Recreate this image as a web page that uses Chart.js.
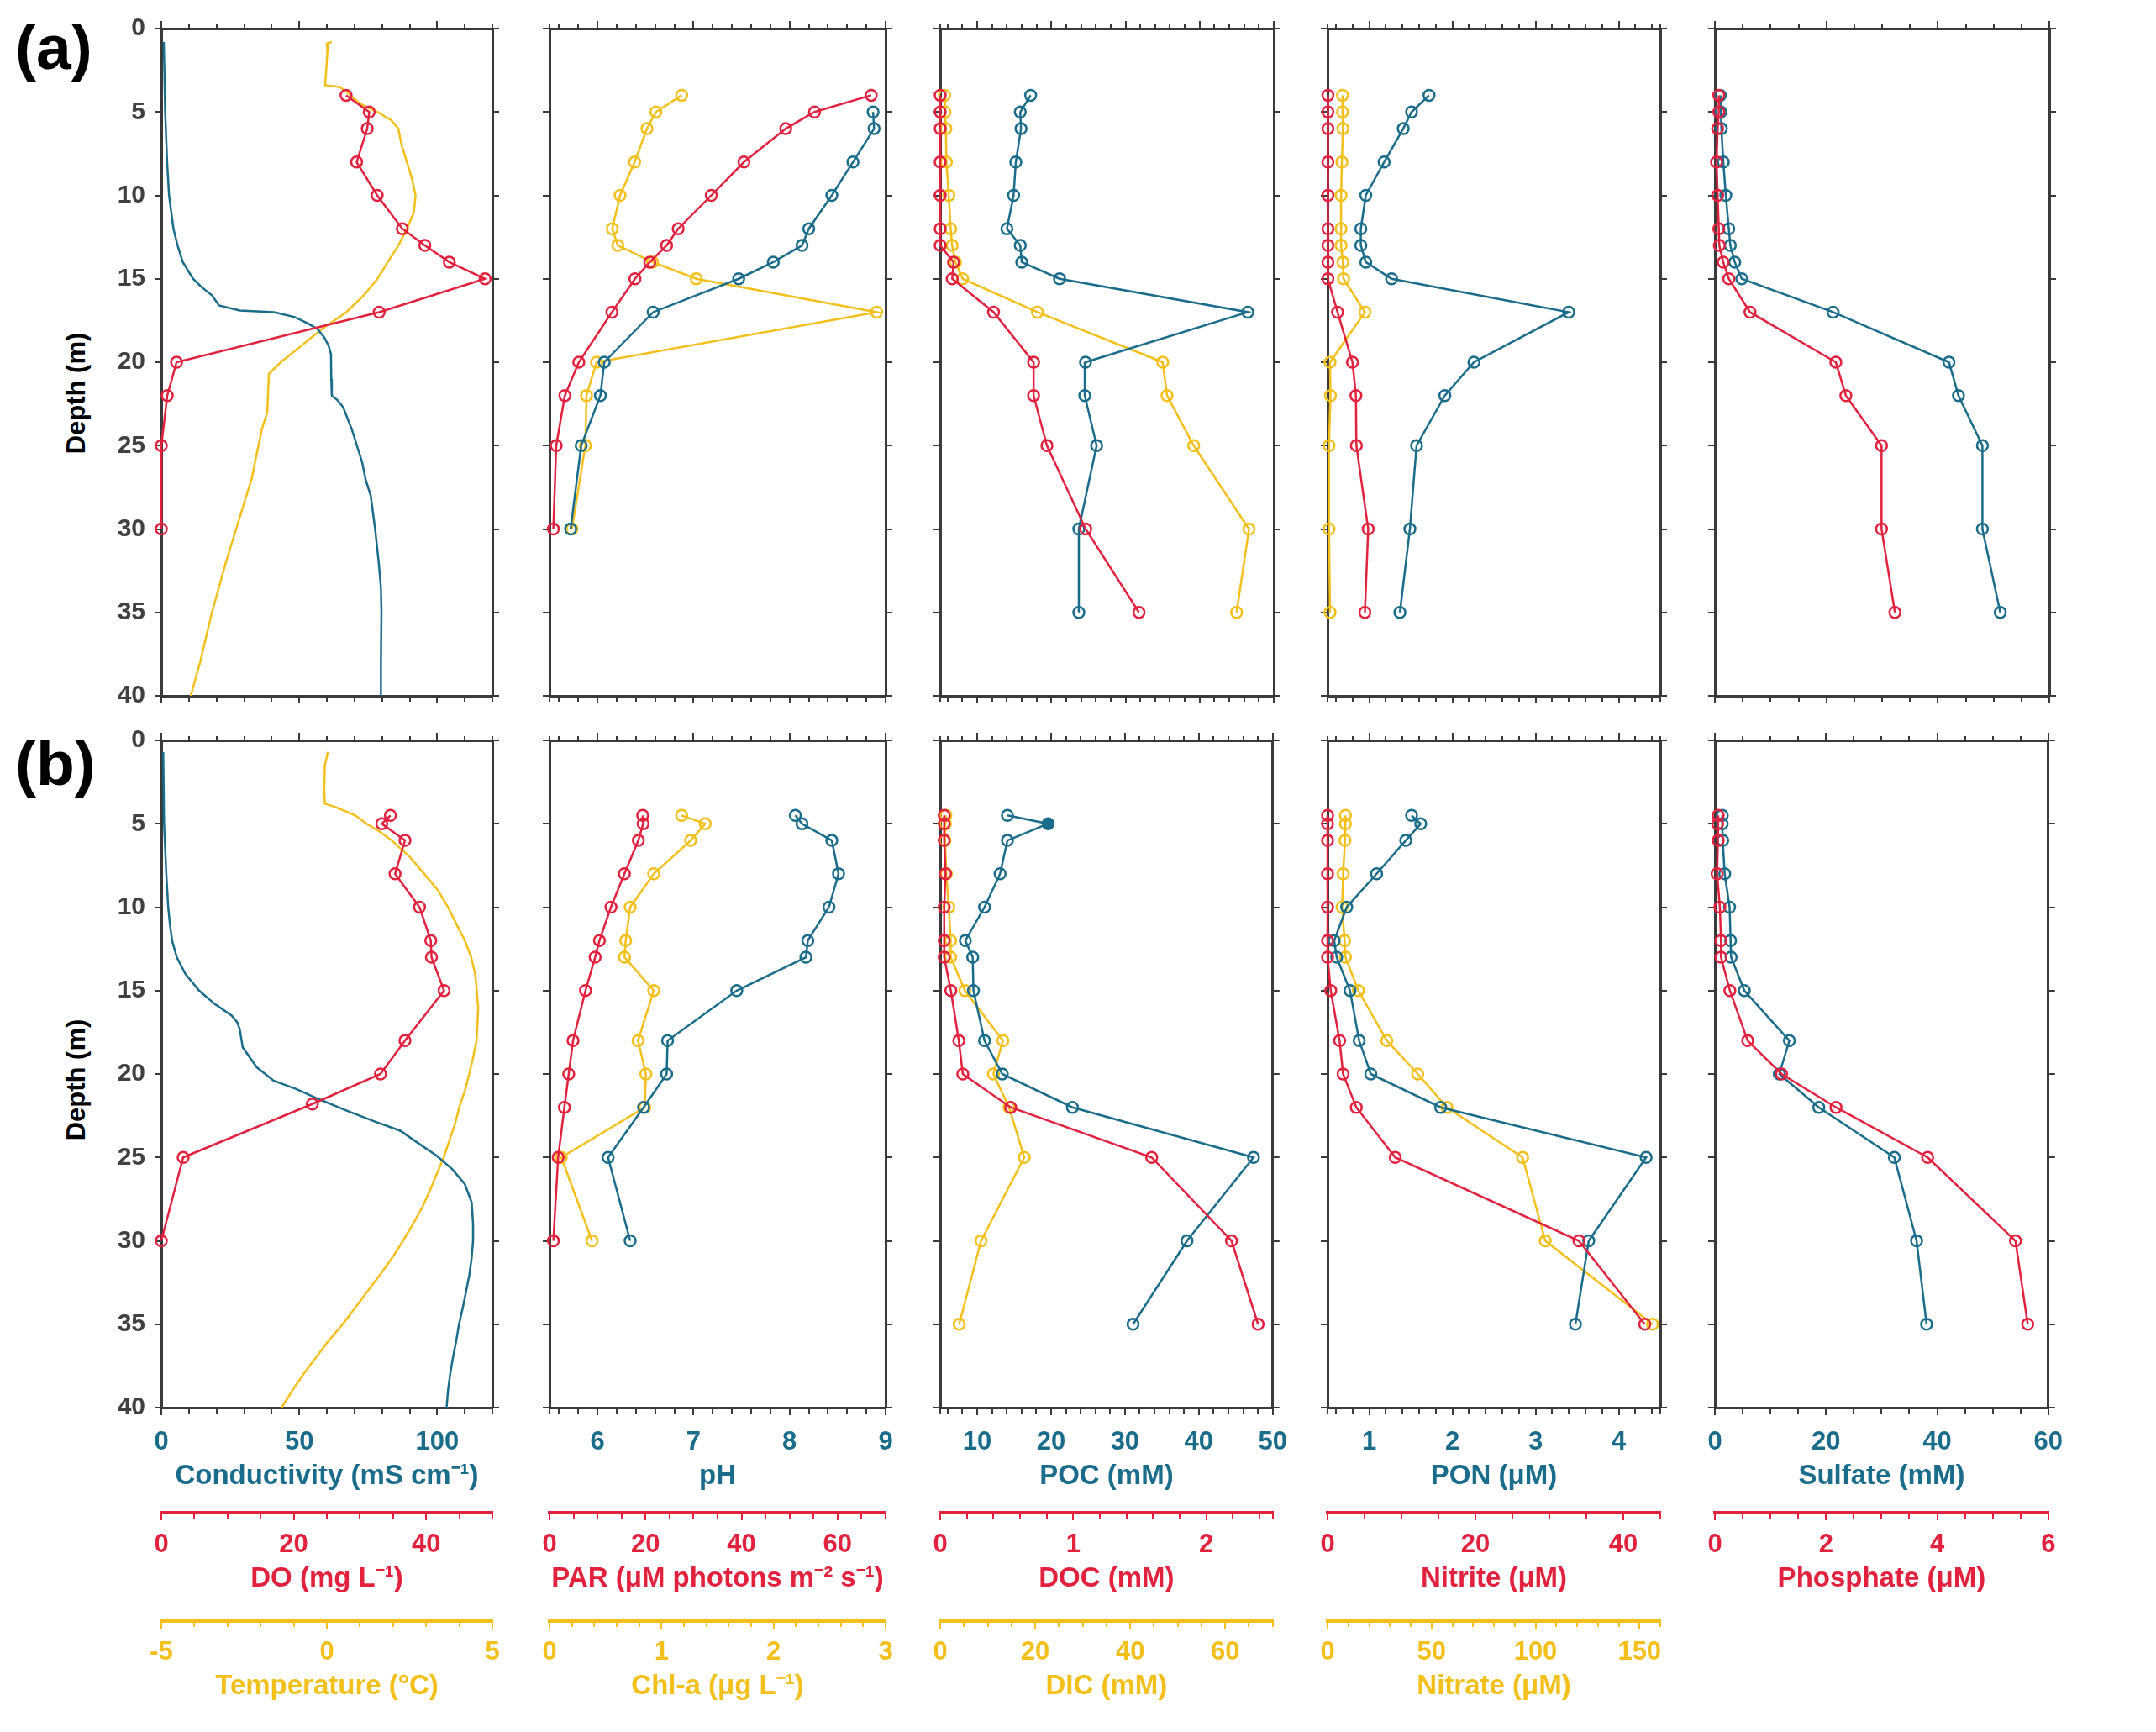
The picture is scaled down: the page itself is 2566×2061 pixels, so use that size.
<!DOCTYPE html>
<html>
<head>
<meta charset="utf-8">
<script src="https://cdn.jsdelivr.net/npm/chart.js@4.4.1/dist/chart.umd.min.js"></script>
<style>
body { margin: 0; background: #fff; }
#wrap { position: relative; width: 2566px; height: 2061px; background: #fff; overflow: hidden; font-family: 'Liberation Sans', Arial, sans-serif; }
#wrap canvas { position: absolute; }
.tag { position: absolute; font-weight: bold; font-size: 75px; line-height: 1; color: #000; }
.ylab { position: absolute; font-weight: bold; font-size: 31px; line-height: 1; color: #000; white-space: nowrap;
        transform: translate(-50%, -50%) rotate(-90deg); }
</style>
</head>
<body>
<div id="wrap">
  <div class="tag" style="left:18px;top:19px">(a)</div>
  <div class="tag" style="left:18px;top:871px">(b)</div>
  <div class="ylab" style="left:90px;top:468px">Depth (m)</div>
  <div class="ylab" style="left:90px;top:1285px">Depth (m)</div>
</div>
<script>
// ---- data ----
// (a) CTD casts
const condDepthA = [0.8,5,8,10,11,12,13,14,15,15.5,16,16.6,16.9,17,17.3,17.7,18,18.5,19,19.5,21,22,22.3,22.7,23.5,24,25,26,27,28,30,32,33.5,35,38,40];
const condA = [0.9,1.4,2.1,2.8,3.6,4.4,5.9,7.8,11.5,14.6,18.4,20.9,28.4,40.9,48.4,53.4,56.5,59.0,60.6,61.5,61.6,61.8,64.0,65.9,67.8,69.0,70.9,72.8,74.0,75.9,77.5,78.8,79.6,79.8,79.6,79.6];
const tempDepthA = [0.8,0.9,1.3,3.4,3.5,3.8,4.5,5,5.5,6,7,8,9,10,11,12,13,14,15,16,17,18,19,20,20.7,23,24,26,27,28,30,32,35,38,40];
const tempA = [0.15,0.0,0.02,-0.05,0.39,0.6,1.0,1.53,1.95,2.16,2.26,2.42,2.57,2.68,2.63,2.42,2.16,1.84,1.53,1.11,0.59,-0.14,-0.76,-1.39,-1.75,-1.8,-1.96,-2.17,-2.27,-2.43,-2.74,-3.05,-3.47,-3.83,-4.11];
const doDepthA = [4,5,6,8,10,12,13,14,15,17,20,22,25,30];
const doA = [27.9,31.4,31.1,29.5,32.6,36.4,39.8,43.5,48.9,32.9,2.3,0.9,0,0];

// (a) discrete samples
const phDepthA = [5,6,8,10,12,13,14,15,17,20,22,25,30];
const phA = [8.87,8.88,8.66,8.44,8.20,8.13,7.83,7.47,6.58,6.07,6.03,5.83,5.72];
const parDepthA = [4,5,6,8,10,12,13,14,15,17,20,22,25,30];
const parA = [67.0,55.2,49.2,40.5,33.7,26.8,24.4,20.9,17.8,13.0,6.1,3.2,1.4,0.8];
const chlA = [1.18,0.95,0.87,0.76,0.63,0.56,0.61,0.92,1.31,2.92,0.42,0.33,0.32,0.20];

const depthA = [4,5,6,8,10,12,13,14,15,17,20,22,25,30,35];
const pocA = [17.2,15.8,15.9,15.2,14.9,14.0,15.8,16.0,21.1,46.5,24.6,24.5,26.1,23.7,23.7];
const docA = [0,0,0,0,0,0,0,0.10,0.09,0.40,0.70,0.70,0.80,1.09,1.49];
const dicA = [0.9,1.0,1.2,1.3,1.8,2.2,2.5,3.2,4.7,20.4,46.7,47.6,53.2,64.8,62.2];
const ponA = [1.72,1.51,1.41,1.18,0.96,0.90,0.90,0.96,1.27,3.40,2.26,1.91,1.57,1.49,1.37];
const nitriteA = [0.05,0.05,0.05,0.05,0.05,0.05,0.05,0.05,0.05,1.35,3.37,3.84,3.9,5.5,5.05];
const nitrateA = [7.2,7.2,7.4,6.9,6.5,6.5,6.5,7.4,7.7,18.0,1.2,1.4,0.7,0.7,1.2];
const sulfateA = [0.98,1.07,1.16,1.52,1.96,2.5,2.77,3.57,4.82,21.2,42.0,43.7,48.0,48.0,51.2];
const phosphateA = [0.07,0.07,0.05,0.03,0.05,0.07,0.08,0.15,0.25,0.63,2.17,2.35,2.99,2.99,3.23];

// (b) CTD casts
const condDepthB = [0.7,5,8,10,11,12,13,14,14.5,15,15.8,16.5,16.9,17.3,18.4,19.6,20.4,20.9,21.5,22.2,22.85,23.4,24.1,24.9,25.7,26.6,27.7,29,30,31,32,33,34,35,36,37,38,39,40];
const condB = [0.7,1.0,1.8,2.5,3.1,3.9,5.6,8.7,11.2,13.7,19.3,25.5,27.5,28.4,29.5,34.6,40.7,48.9,57.0,67.2,77.4,86.6,92.7,99.8,105.4,110.0,112.5,113.0,113.0,112.5,111.7,110.5,109.3,107.9,106.9,105.7,104.7,103.9,103.4];
const tempDepthB = [0.7,1.5,3,3.8,4,4.5,5,5.5,6,7,8,9,10,11,12,13,14,15,16,17,18,19,20,21,22,23,24,25,26,27,28,29,30,31,32,33,34,35,36,37,38,39,40];
const tempB = [0.03,-0.06,-0.08,-0.06,0.26,0.86,1.2,1.62,1.96,2.51,2.94,3.36,3.66,3.91,4.17,4.36,4.48,4.53,4.57,4.55,4.52,4.42,4.30,4.17,4.0,3.87,3.70,3.53,3.32,3.11,2.88,2.60,2.30,1.98,1.62,1.24,0.86,0.48,0.05,-0.33,-0.71,-1.05,-1.37];
const doDepthB = [4.5,5,6,8,10,12,13,15,18,20,21.8,25,30];
const doB = [34.6,33.3,36.8,35.3,39.0,40.7,40.8,42.7,36.8,33.1,22.8,3.3,0];

// (b) discrete samples
const depthB2 = [4.5,5,6,8,10,12,13,15,18,20,22,25,30];
const phB = [8.06,8.13,8.44,8.51,8.41,8.19,8.17,7.45,6.73,6.72,6.48,6.11,6.34];
const parB = [19.4,19.5,18.5,15.6,12.8,10.4,9.5,7.5,4.9,4.0,3.1,1.8,0.8];
const chlB = [1.18,1.39,1.26,0.93,0.72,0.68,0.67,0.93,0.79,0.86,0.85,0.105,0.38];

const depthB = [4.5,5,6,8,10,12,13,15,18,20,22,25,30,35];
const pocB = [14.1,19.6,14.1,13.1,11.0,8.4,9.4,9.5,11.0,13.4,22.9,47.4,38.4,31.1];
const docB = [0.03,0.03,0.03,0.04,0.03,0.03,0.03,0.08,0.14,0.17,0.53,1.59,2.19,2.39];
const dicB = [1.2,1.1,1.0,1.3,1.8,2.2,2.2,5.2,13.2,11.2,14.5,17.7,8.6,4.0];
const ponB = [1.51,1.62,1.44,1.09,0.73,0.58,0.61,0.77,0.88,1.02,1.86,4.33,3.64,3.48];
const nitriteB = [0,0,0,0,0,0,0,0.43,1.63,2.10,3.89,9.15,34.0,42.9];
const nitrateB = [8.6,8.6,8.4,7.5,7.0,8.2,8.6,14.8,28.5,43.4,57.4,93.8,104.7,156.3];
const sulfateB = [1.33,1.33,1.41,1.77,2.65,2.83,2.92,5.3,13.4,11.6,18.7,32.3,36.3,38.1];
const phosphateB = [0.06,0.05,0.06,0.04,0.09,0.11,0.11,0.27,0.59,1.20,2.18,3.83,5.41,5.63];

// axis ranges: min, max, minor tick step, labelled step
const depthAxis = {min: 0, max: 40, step: 5};
const colAxes = [
  { blue:   {title: 'Conductivity (mS cm⁻¹)', min: 0, max: 120, step: 10, major: 50},
    red:    {title: 'DO (mg L⁻¹)', min: 0, max: 50, step: 5, major: 20},
    yellow: {title: 'Temperature (°C)', min: -5, max: 5, step: 1, major: 5} },
  { blue:   {title: 'pH', min: 5.5, max: 9, step: 0.2, major: 1},
    red:    {title: 'PAR (μM photons m⁻² s⁻¹)', min: 0, max: 70, step: 5, major: 20},
    yellow: {title: 'Chl-a (μg L⁻¹)', min: 0, max: 3, step: 0.2, major: 1} },
  { blue:   {title: 'POC (mM)', min: 5, max: 50, step: 2, major: 10},
    red:    {title: 'DOC (mM)', min: 0, max: 2.5, step: 0.2, major: 1},
    yellow: {title: 'DIC (mM)', min: 0, max: 70, step: 5, major: 20} },
  { blue:   {title: 'PON (μM)', min: 0.5, max: 4.5, step: 0.2, major: 1},
    red:    {title: 'Nitrite (μM)', min: 0, max: 45, step: 5, major: 20},
    yellow: {title: 'Nitrate (μM)', min: 0, max: 160, step: 10, major: 50} },
  { blue:   {title: 'Sulfate (mM)', min: 0, max: 60, step: 5, major: 20},
    red:    {title: 'Phosphate (μM)', min: 0, max: 6, step: 0.5, major: 2},
    yellow: null }
];

const BLUE = '#1a6c8b', RED = '#e2213f', YELLOW = '#f3bf1b', AXIS = '#3a3a3a';

// series per panel [row][col]
const panels = [
  [
    [ {axis: 'xr', color: RED, depth: doDepthA, vals: doA},
      {axis: 'xb', color: BLUE, depth: condDepthA, vals: condA, profile: true},
      {axis: 'xy', color: YELLOW, depth: tempDepthA, vals: tempA, profile: true} ],
    [ {axis: 'xr', color: RED, depth: parDepthA, vals: parA},
      {axis: 'xb', color: BLUE, depth: phDepthA, vals: phA},
      {axis: 'xy', color: YELLOW, depth: parDepthA, vals: chlA} ],
    [ {axis: 'xr', color: RED, depth: depthA, vals: docA},
      {axis: 'xb', color: BLUE, depth: depthA, vals: pocA},
      {axis: 'xy', color: YELLOW, depth: depthA, vals: dicA} ],
    [ {axis: 'xr', color: RED, depth: depthA, vals: nitriteA},
      {axis: 'xb', color: BLUE, depth: depthA, vals: ponA},
      {axis: 'xy', color: YELLOW, depth: depthA, vals: nitrateA} ],
    [ {axis: 'xr', color: RED, depth: depthA, vals: phosphateA},
      {axis: 'xb', color: BLUE, depth: depthA, vals: sulfateA} ]
  ],
  [
    [ {axis: 'xr', color: RED, depth: doDepthB, vals: doB},
      {axis: 'xb', color: BLUE, depth: condDepthB, vals: condB, profile: true},
      {axis: 'xy', color: YELLOW, depth: tempDepthB, vals: tempB, profile: true} ],
    [ {axis: 'xr', color: RED, depth: depthB2, vals: parB},
      {axis: 'xb', color: BLUE, depth: depthB2, vals: phB},
      {axis: 'xy', color: YELLOW, depth: depthB2, vals: chlB} ],
    [ {axis: 'xr', color: RED, depth: depthB, vals: docB},
      {axis: 'xb', color: BLUE, depth: depthB, vals: pocB, solid: 1},
      {axis: 'xy', color: YELLOW, depth: depthB, vals: dicB} ],
    [ {axis: 'xr', color: RED, depth: depthB, vals: nitriteB},
      {axis: 'xb', color: BLUE, depth: depthB, vals: ponB},
      {axis: 'xy', color: YELLOW, depth: depthB, vals: nitrateB} ],
    [ {axis: 'xr', color: RED, depth: depthB, vals: phosphateB},
      {axis: 'xb', color: BLUE, depth: depthB, vals: sulfateB} ]
  ]
];

// ---- layout ----
const colLeft = [192, 654, 1119, 1580, 2041];
const colWidth = [394, 400, 397, 396, 398];
const rowTop = [34, 881];
const panelH = 794;
const TL = 9;        // major tick length, minor ticks are drawn 5px long

Chart.defaults.font.family = "'Liberation Sans', Arial, sans-serif";

function pts(depths, vals) {
  return vals.map((v, i) => ({x: v, y: depths[i]}));
}

function isMajor(v, major) {
  return Math.abs(v - Math.round(v / major) * major) < 1e-6;
}

function tickCb(major) {
  return v => (isMajor(v, major) ? String(+(Math.round(v / major) * major).toFixed(2)) : '');
}

// tick values: both ends plus every multiple of the minor step in between
function tickList(a) {
  const out = [{value: a.min}];
  for (let k = Math.floor(a.min / a.step + 1e-9) + 1; k * a.step < a.max - 1e-9; k++) {
    out.push({value: +(k * a.step).toFixed(4)});
  }
  out.push({value: a.max});
  return out;
}

// minor ticks: dash the tick line so only 5px next to the axis line shows
function tickDash(major, pos) {
  return ctx => {
    const v = ctx.tick ? ctx.tick.value : 0;
    if (isMajor(v, major)) return [];
    return pos === 'top' ? [0, TL - 5, 5, 60] : [5, 60];
  };
}

function bottomAxis(a, color, lineColor, weight, h, tickPad, titlePad, bw, show) {
  return {
    type: 'linear', position: 'bottom', weight: weight,
    min: a.min, max: a.max,
    border: {color: lineColor, width: bw},
    grid: {drawOnChartArea: false, tickLength: TL, color: lineColor, lineWidth: 2,
           tickBorderDash: tickDash(a.major, 'bottom')},
    ticks: {display: show, autoSkip: false, maxRotation: 0, minRotation: 0,
            color: color, font: {size: 31, weight: 'bold'}, padding: tickPad, callback: tickCb(a.major)},
    afterBuildTicks: s => { s.ticks = tickList(a); },
    title: {display: show, text: a.title, color: color, font: {size: 33, weight: 'bold'},
            padding: {top: 0, bottom: titlePad}},
    afterFit: s => { s.height = h; }
  };
}

const wrap = document.getElementById('wrap');

function buildPanel(r, c) {
  const ax = colAxes[c];
  const bottomRow = r === 1;
  const padL = c === 0 ? colLeft[0] : 30, padR = 30, padT = 30;
  const padB = bottomRow ? 125 + 129 + (ax.yellow ? 110 : 0) : 30;

  const cv = document.createElement('canvas');
  cv.width = padL + colWidth[c] + padR;
  cv.height = padT + panelH + padB;
  cv.style.left = (colLeft[c] - padL) + 'px';
  cv.style.top = (rowTop[r] - padT) + 'px';
  wrap.appendChild(cv);

  const depthGrid = {drawOnChartArea: false, tickLength: 8, color: AXIS, lineWidth: 2};
  const scales = {
    y: {
      type: 'linear', position: 'left', reverse: true,
      min: depthAxis.min, max: depthAxis.max,
      border: {color: AXIS, width: 3},
      grid: depthGrid,
      ticks: {display: c === 0, stepSize: depthAxis.step, color: '#404040',
              font: {size: 30, weight: 'bold'}, padding: 11},
      afterFit: s => { s.width = padL; }
    },
    y2: {
      type: 'linear', position: 'right', reverse: true,
      min: depthAxis.min, max: depthAxis.max,
      border: {color: AXIS, width: 3},
      grid: depthGrid,
      ticks: {display: false, stepSize: depthAxis.step},
      afterFit: s => { s.width = padR; }
    },
    xt: {
      type: 'linear', position: 'top', min: ax.blue.min, max: ax.blue.max,
      border: {color: AXIS, width: 3},
      grid: {drawOnChartArea: false, tickLength: TL, color: AXIS, lineWidth: 2,
             tickBorderDash: tickDash(ax.blue.major, 'top')},
      ticks: {display: false, autoSkip: false, maxRotation: 0},
      afterBuildTicks: s => { s.ticks = tickList(ax.blue); },
      afterFit: s => { s.height = padT; }
    },
    xb: bottomAxis(ax.blue, BLUE, AXIS, 0, bottomRow ? 125 : 30, 14, 23, 3, bottomRow)
  };
  if (bottomRow) {
    scales.xr = bottomAxis(ax.red, RED, RED, 1, 129, 11, 30, 4, true);
    if (ax.yellow) scales.xy = bottomAxis(ax.yellow, YELLOW, YELLOW, 2, 110, 10, 12, 4, true);
  } else {
    scales.xr = {type: 'linear', display: false, min: ax.red.min, max: ax.red.max};
    if (ax.yellow) scales.xy = {type: 'linear', display: false, min: ax.yellow.min, max: ax.yellow.max};
  }

  const datasets = panels[r][c].map(s => ({
    data: pts(s.depth, s.vals),
    xAxisID: s.axis, yAxisID: 'y',
    showLine: true,
    borderColor: s.color,
    backgroundColor: s.color,
    borderWidth: 2.5,
    pointRadius: s.profile ? 0 : 6.5,
    pointBorderWidth: 2.5,
    pointBorderColor: s.color,
    pointBackgroundColor: ctx => (s.solid === ctx.dataIndex ? s.color : 'rgba(255,255,255,0)'),
    tension: 0,
    clip: false
  }));

  new Chart(cv, {
    type: 'scatter',
    data: {datasets: datasets},
    options: {
      responsive: false,
      animation: false,
      devicePixelRatio: 1,
      events: [],
      layout: {padding: 0},
      plugins: {legend: {display: false}, tooltip: {enabled: false}},
      scales: scales
    }
  });
}

for (let r = 0; r < 2; r++) {
  for (let c = 0; c < 5; c++) buildPanel(r, c);
}
</script>
</body>
</html>
